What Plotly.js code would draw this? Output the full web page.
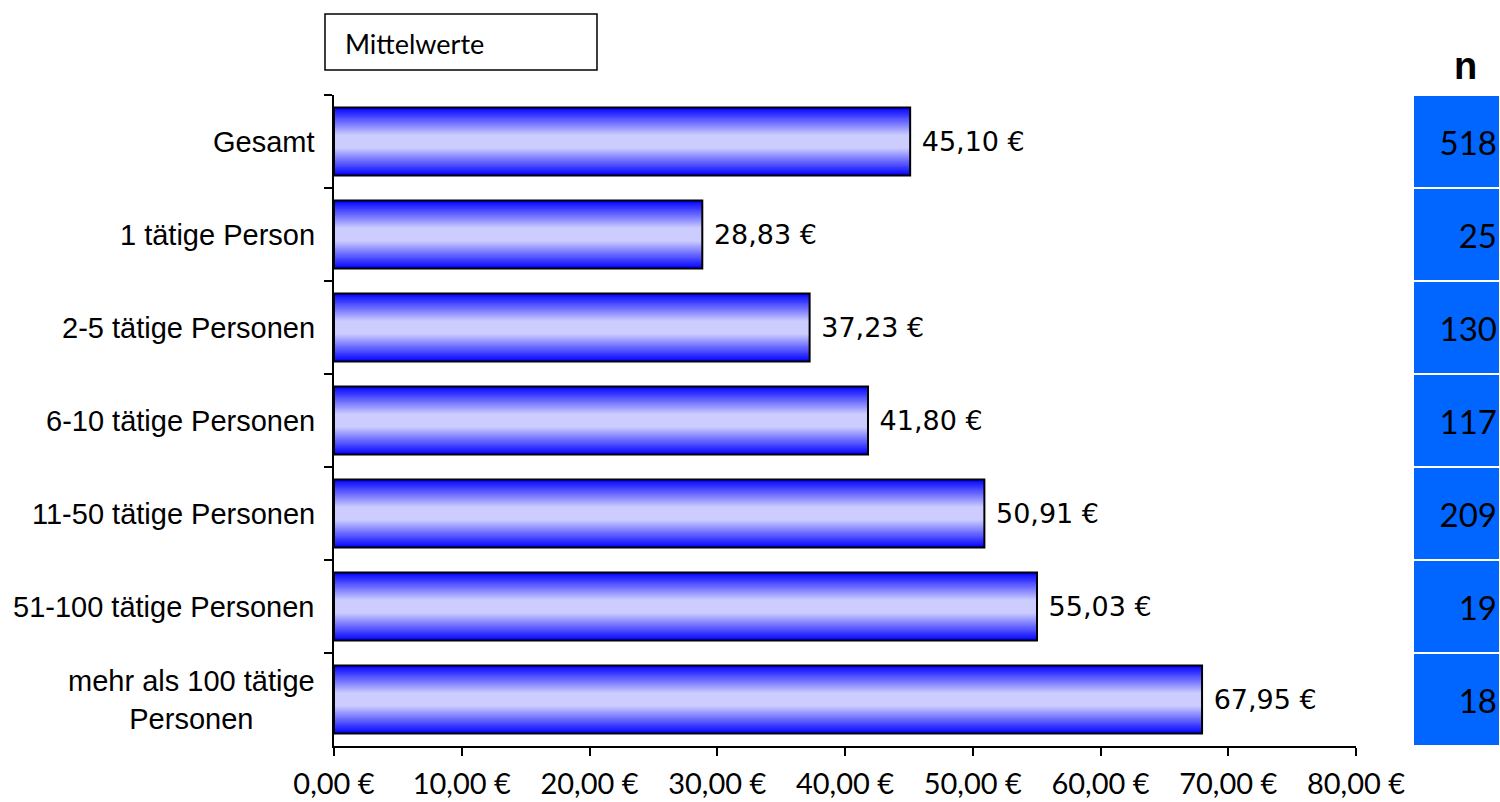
<!DOCTYPE html>
<html>
<head>
<meta charset="utf-8">
<script src="https://cdn.plot.ly/plotly-3.0.1.min.js"></script>
<style>
  body { margin: 0; background: #fff; }
  #chart { width: 1500px; height: 802px; }
</style>
</head>
<body>
<div id="chart"></div>
<script>

// categories (top to bottom)
var groups = ['Gesamt', '1 tätige Person', '2-5 tätige Personen', '6-10 tätige Personen',
              '11-50 tätige Personen', '51-100 tätige Personen', 'mehr als 100 tätige<br>Personen'];

// mean values in euro
var means = [45.10, 28.83, 37.23, 41.80, 50.91, 55.03, 67.95];

// sample size per group
var counts = [518, 25, 130, 117, 209, 19, 18];

var xTicks = [0, 10, 20, 30, 40, 50, 60, 70, 80];

function euro(v) {
    return v.toFixed(2).replace('.', ',') + ' €';
}

// gradient bars: stacked overlays, outer blue -> inner light lavender
var traces = [];
var nLayers = 24;
var outerW = 0.73, innerW = 0.15;
for (var i = 0; i < nLayers; i++) {
    var t = i / (nLayers - 1);
    var r = Math.round(5 + (204 - 5) * t);
    var g = Math.round(5 + (204 - 5) * t);
    traces.push({
        type: 'bar',
        orientation: 'h',
        x: means,
        y: groups,
        width: outerW - (outerW - innerW) * t,
        marker: {color: 'rgb(' + r + ',' + g + ',255)', line: {width: 0}},
        hoverinfo: 'skip',
        showlegend: false
    });
}

// outline + value labels
traces.push({
    type: 'bar',
    orientation: 'h',
    x: means,
    y: groups,
    width: outerW,
    marker: {color: 'rgba(0,0,0,0)', line: {color: '#000', width: 2}},
    text: means.map(function (v) { return '\u00a0' + euro(v); }),
    textposition: 'outside',
    cliponaxis: false,
    textfont: {family: 'DejaVu Sans', size: 27, color: '#000'},
    showlegend: false
});

// n column on the right
traces.push({
    type: 'bar',
    orientation: 'h',
    x: counts.map(function () { return 1; }),
    y: groups,
    width: 1,
    xaxis: 'x2',
    marker: {color: '#0066ff', line: {color: '#fff', width: 2}},
    text: counts.map(String),
    textposition: 'inside',
    insidetextanchor: 'end',
    textfont: {family: 'Lato', size: 33, color: '#000'},
    showlegend: false
});

var annotations = groups.map(function (g) {
    return {
        xref: 'paper', yref: 'y',
        x: 317 / 1500, y: g,
        xanchor: 'right', yanchor: 'middle',
        align: 'center',
        text: g,
        showarrow: false,
        font: {family: 'Liberation Sans', size: 29, color: '#000'}
    };
});

annotations.push({
    xref: 'paper', yref: 'paper',
    x: 343 / 1500, y: 1 - 43 / 802,
    xanchor: 'left', yanchor: 'middle',
    text: 'Mittelwerte',
    showarrow: false,
    font: {family: 'Lato', size: 27, color: '#000'}
});
annotations.push({
    xref: 'paper', yref: 'paper',
    x: 1465 / 1500, y: 1 - 66 / 802,
    xanchor: 'center', yanchor: 'middle',
    text: '<b>n</b>',
    showarrow: false,
    font: {family: 'Liberation Sans', size: 38, color: '#000'}
});

var layout = {
    width: 1500,
    height: 802,
    margin: {l: 0, r: 0, t: 0, b: 0},
    paper_bgcolor: '#fff',
    plot_bgcolor: 'rgba(0,0,0,0)',
    barmode: 'overlay',
    showlegend: false,
    xaxis: {
        domain: [334 / 1500, 1356 / 1500],
        range: [0, 80],
        tickmode: 'array',
        tickvals: xTicks,
        ticktext: xTicks.map(euro),
        showline: true, linecolor: '#000', linewidth: 2,
        ticks: 'outside', ticklen: 8, tickwidth: 2, tickcolor: '#000',
        ticklabelstandoff: 3,
        showgrid: false, zeroline: false,
        automargin: false,
        tickfont: {family: 'Lato', size: 29, color: '#000'}
    },
    xaxis2: {
        domain: [1413 / 1500, 1],
        range: [0, 1],
        anchor: 'y',
        visible: false
    },
    yaxis: {
        domain: [1 - 746 / 802, 1 - 95 / 802],
        type: 'category',
        categoryorder: 'array',
        categoryarray: groups,
        range: [6.5, -0.5],
        showline: true, linecolor: '#000', linewidth: 2,
        ticks: 'outside', tickson: 'boundaries', ticklen: 8, tickwidth: 2, tickcolor: '#000',
        showticklabels: false,
        showgrid: false, zeroline: false,
        automargin: false
    },
    shapes: [{
        type: 'rect', xref: 'paper', yref: 'paper',
        x0: 325 / 1500, x1: 597 / 1500,
        y0: 1 - 70 / 802, y1: 1 - 14 / 802,
        line: {color: '#000', width: 1.5},
        fillcolor: '#fff'
    }],
    annotations: annotations
};

Plotly.newPlot('chart', traces, layout, {staticPlot: true});

</script>
</body>
</html>
